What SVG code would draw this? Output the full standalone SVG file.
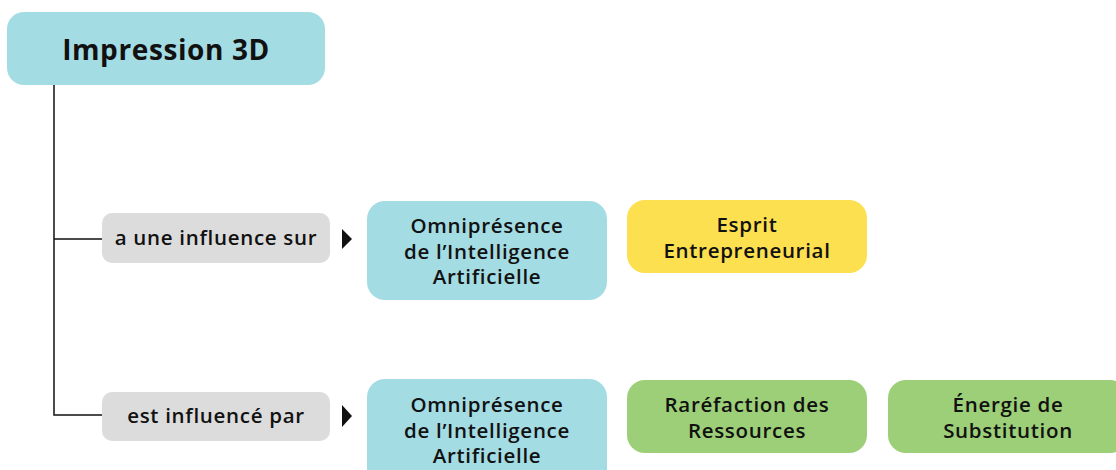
<svg xmlns="http://www.w3.org/2000/svg" width="1116" height="470" viewBox="0 0 1116 470">
<style>
text{font-family:"Open Sans","Noto Sans",sans-serif;font-weight:600;fill:#111;text-anchor:middle;font-size:20.5px;letter-spacing:0.7px}
.t{font-size:28px;font-weight:700;letter-spacing:0.6px}
.blue{fill:#a4dce4}.yellow{fill:#fde04f}.green{fill:#9ccf78}.grey{fill:#dcdcdc}
.c{stroke:#111;stroke-width:1.5;fill:none}
</style>
<rect width="1116" height="470" fill="#fff"/>
<g id="connectors">
<path class="c" d="M54 85V415H103M54 239H103"/>
<polygon points="342,229 352,239 342,249" fill="#111"/>
<polygon points="342,405 352,416 342,427" fill="#111"/>
</g>
<g id="title"><rect class="blue" x="7" y="12" width="318" height="73" rx="17"/><text class="t" x="166" y="60">Impression 3D</text></g>
<g id="label1"><rect class="grey" x="102" y="213" width="228" height="50" rx="10"/><text x="216" y="245">a une influence sur</text></g>
<g id="omni1"><rect class="blue" x="367" y="201" width="240" height="99" rx="18"/><text x="487" y="233">Omniprésence</text><text x="487" y="258.5">de l’Intelligence</text><text x="487" y="284">Artificielle</text></g>
<g id="esprit"><rect class="yellow" x="627" y="200" width="240" height="73" rx="18"/><text x="747" y="232">Esprit</text><text x="747" y="258">Entrepreneurial</text></g>
<g id="label2"><rect class="grey" x="102" y="392" width="228" height="49" rx="10"/><text x="216" y="423">est influencé par</text></g>
<g id="omni2"><rect class="blue" x="367" y="379" width="240" height="110" rx="18"/><text x="487" y="412">Omniprésence</text><text x="487" y="437.5">de l’Intelligence</text><text x="487" y="463">Artificielle</text></g>
<g id="rarefaction"><rect class="green" x="627" y="380" width="240" height="73" rx="18"/><text x="747" y="412">Raréfaction des</text><text x="747" y="438">Ressources</text></g>
<g id="energie"><rect class="green" x="888" y="380" width="240" height="73" rx="18"/><text x="1008" y="412">Énergie de</text><text x="1008" y="438">Substitution</text></g>
</svg>
